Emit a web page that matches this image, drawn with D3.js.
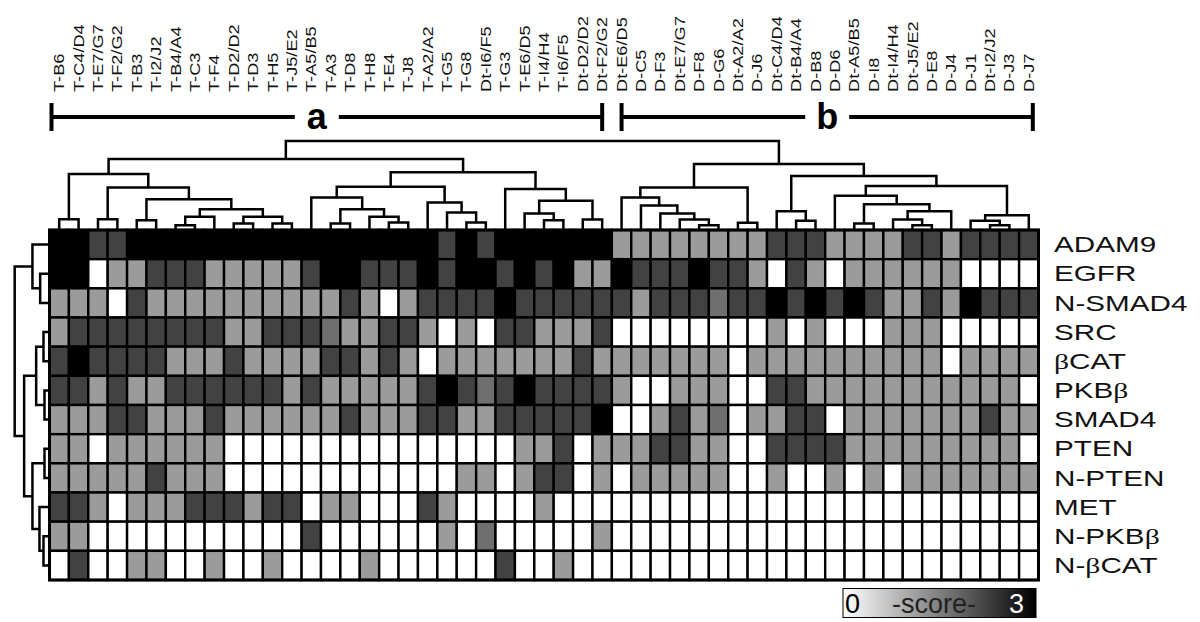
<!DOCTYPE html>
<meta charset="utf-8">
<title>Clustered heatmap</title>
<style>
  body { margin: 0; background: #fff; }
  svg { display: block; font-family: "Liberation Sans", Arial, sans-serif; }
</style>
<body>
<svg id="chart" width="1200" height="622"></svg>
<script src="https://d3js.org/d3.v7.min.js"></script>
<script>

var colLabels = ["T-B6","T-C4/D4","T-E7/G7","T-F2/G2","T-B3","T-I2/J2","T-B4/A4","T-C3","T-F4","T-D2/D2",
  "T-D3","T-H5","T-J5/E2","T-A5/B5","T-A3","T-D8","T-H8","T-E4","T-J8","T-A2/A2",
  "T-G5","T-G8","Dt-I6/F5","T-G3","T-E6/D5","T-I4/H4","T-I6/F5","Dt-D2/D2","Dt-F2/G2","Dt-E6/D5",
  "D-C5","D-F3","Dt-E7/G7","D-F8","D-G6","Dt-A2/A2","D-J6","Dt-C4/D4","Dt-B4/A4","D-B8",
  "D-D6","Dt-A5/B5","D-I8","Dt-I4/H4","Dt-J5/E2","D-E8","D-J4","D-J1","Dt-I2/J2","D-J3","D-J7"];

var rowLabels = ["ADAM9","EGFR","N-SMAD4","SRC","βCAT","PKBβ","SMAD4","PTEN","N-PTEN","MET","N-PKBβ","N-βCAT"];

// score per cell, 0..3
var scores = [
  [3,3,2,2,3,3,3,3,3,3,3,3,3, 3,3,3,3,3,3,3,2,3,2,3,3,3, 3,3,3,1,1,1,1,1,1,1,1,2,2, 2,1,1,1,1,2,2,1,2,2,2,2],
  [3,3,0,1,1,2,2,2,1,1,1,1,1, 2,3,3,2,2,2,3,2,3,3,2,3,2, 3,1,1,3,2,2,2,3,2,2,1,0,2, 1,0,1,1,1,1,1,1,0,0,0,0],
  [1,1,1,0,2,1,1,1,1,1,1,1,1, 1,1,2,1,0,1,2,2,2,2,3,2,2, 2,2,2,2,1,2,2,2,1.5,2,2,3,2, 3,2,3,2,1,1,2,1,3,2,2,2],
  [1,2,2,2,2,2,2,2,2,1,1,2,2, 2,1.5,1,1,2,2,1,0,1,0,2,2,1, 1,1,2,0,0,0,0,0,0,0,0,1,0, 1,0,0,0,1,1,1,0,0,0,0,0],
  [2,3,2,2,2,2,1,1,1,2,1,1,1, 1,2,2,1,2,1,0,1,1,1,1,1,1, 1,2,1,1,1,1,1,1,1,0,1,1,1, 1,1,1,1,1,1,1,0,1,1,1,1],
  [2,2,1,2,1,1,2,2,2,2,2,2,1, 2,1,1,1,1,1,2,3,2,1.5,2,3,2, 2,2,2,1,0,0,1,1,1,0,0,2,2, 1,1,1,1,1,1,1,1,1,1,1,0],
  [1,1,1,2,2,1,1,1,2,1,1,1,1, 1,1,2,1,1,1,2,2,1,1,2,2,2, 2,2,3,0,0,1,2,1,1.5,0,1,1,2, 2,0,1,1,1,1,1,1,1,2,1,1],
  [1,1,0,1,1,1,1,1,1,0,0,0,0, 0,0,0,0,0,0,0,0,0,0,0,1,1, 2,0,1,1,1,2,2,1,1,0,0,2,2, 2,2,1,1,1,1,1,1,1,1,1,0],
  [1,1,1,1,1,2,1,1,1,0,0,0,0, 0,0,0,0,0,0,0,0,1,1,0,1,2, 2,0,1,0,1,1,1,1,1,0,0,1,0, 0,1,0,1,0,1,1,1,1,1,1,1],
  [2,2,1,0,1,1,1,2,2,2,1,2,2, 0,1,1,0,0,0,2,1,0,0,0,0,1, 0,0,0,0,0,0,0,0,0,0,0,0,0, 0,0,0,0,0,0,0,0,0,0,0,0],
  [1,1,0,0,0,0,0,0,0,0,0,0,0, 2,0,0,0,0,0,0,1,0,1.5,0,0,0, 0,0,1,0,0,0,0,0,0,0,0,0,0, 0,0,0,0,0,0,0,0,0,0,0,0],
  [0,2,0,0,1,1,0,0,1,0,0,1,0, 0,0,0,1,0,0,0,0,0,0,2,0,0, 1,0,0,0,0,0,0,0,0,0,0,0,0, 0,0,0,0,0,0,0,0,0,0,0,0]
];

// dendrograms: [height, left, right], leaves are column / row indices
var colTree = [88.3,
  [70.3,
    [55.3, [10.3,0,1], [42, [10.3,2,3], [30.3, [9.3,4,5], [20.3, [12.7,[4.3,6,7],8], [12.7,[6,9,10],[6,11,12]]]]]],
    [57,
      [42.7,
        [32, 13, [20.3, [6,14,15], [12.7, 16, [7,17,18]]]],
        [27, 19, [17, 20, [7,21,22]]]],
      [40.3, 23, [28.7, [16, 24, [9.3,25,26]], [10,27,28]]]]],
  [65.3,
    [42, [32, 29, [24, 30, [16, 31, [10, 32, [4.3,33,34]]]]], [6.7,35,36]],
    [53.3,
      [18.3, 37, [8.7,38,39]],
      [43.3,
        [33.7, 40, [25.3, [6,41,42], [18.3, [10, 43, [4.3,44,45]], 46]]],
        [14.3, [8.7, 47, [4.3,48,49]], 50]]]]];

var rowTree = [34.7,
  [17, 0, [9.3,1,2]],
  [25.3, [13.3, [6,3,4], [5,5,6]], [17, [5,7,8], [10, 9, [6,10,11]]]]];

var groupNames = ["a", "b"],
    groupFirst = [0, 29],
    groupLast = [28, 50];

var legendMin = 0, legendMax = 3;

var svg = d3.select("#chart");

var mapLeft = 49.5, mapRight = 1038.5, mapTop = 230, mapBottom = 580;

var x = d3.scaleBand().domain(d3.range(colLabels.length)).range([mapLeft, mapRight]);
var y = d3.scaleBand().domain(d3.range(rowLabels.length)).range([mapTop, mapBottom]);
var bw = x.bandwidth(), bh = y.bandwidth();

var color = d3.scaleLinear()
    .domain([0, 1, 2, 3])
    .range(["#ffffff", "#9b9b9b", "#424242", "#000000"]);

// heatmap cells
var cells = [];
scores.forEach(function(row, r) {
  row.forEach(function(v, c) { cells.push({r: r, c: c, v: v}); });
});

svg.append("g").selectAll("rect")
  .data(cells)
  .enter().append("rect")
    .attr("x", function(d) { return x(d.c); })
    .attr("y", function(d) { return y(d.r); })
    .attr("width", bw)
    .attr("height", bh)
    .attr("fill", function(d) { return color(d.v); })
    .attr("stroke", "#000")
    .attr("stroke-width", 2.4);

svg.append("rect")
    .attr("x", mapLeft).attr("y", mapTop)
    .attr("width", mapRight - mapLeft).attr("height", mapBottom - mapTop)
    .attr("fill", "none").attr("stroke", "#000").attr("stroke-width", 3);

// dendrogram helper: collects links with leaf positions
function walk(node, pos, links) {
  if (!Array.isArray(node)) return {p: pos(node), h: 0};
  var a = walk(node[1], pos, links), b = walk(node[2], pos, links);
  links.push({a: a, b: b, h: node[0]});
  return {p: (a.p + b.p) / 2, h: node[0]};
}

var colLinks = [];
walk(colTree, function(i) { return x(i) + bw / 2; }, colLinks);
var hTop = d3.scaleLinear().domain([0, colTree[0]]).range([mapTop - 0.5, 141]);

svg.append("g").selectAll("path")
  .data(colLinks)
  .enter().append("path")
    .attr("fill", "none")
    .attr("stroke", "#000")
    .attr("stroke-width", 2.5)
    .attr("d", function(d) {
      return "M" + d.a.p + "," + hTop(d.a.h) + "V" + hTop(d.h) + "H" + d.b.p + "V" + hTop(d.b.h);
    });

var rowLinks = [];
walk(rowTree, function(i) { return y(i) + bh / 2; }, rowLinks);
var hLeft = d3.scaleLinear().domain([0, rowTree[0]]).range([mapLeft, 14.7]);

svg.append("g").selectAll("path")
  .data(rowLinks)
  .enter().append("path")
    .attr("fill", "none")
    .attr("stroke", "#000")
    .attr("stroke-width", 2.5)
    .attr("d", function(d) {
      return "M" + hLeft(d.a.h) + "," + d.a.p + "H" + hLeft(d.h) + "V" + d.b.p + "H" + hLeft(d.b.h);
    });

// column labels (rotated)
svg.append("g").selectAll("text")
  .data(colLabels)
  .enter().append("text")
    .attr("transform", function(d, i) {
      return "translate(" + (x(i) + bw / 2) + ",92) rotate(-90) scale(1.3,1)";
    })
    .attr("dy", "0.36em")
    .attr("font-size", 14)
    .attr("fill", "#111")
    .text(function(d) { return d; });

// row labels, beta drawn in a serif face like the original
var rowText = svg.append("g").selectAll("text")
  .data(rowLabels)
  .enter().append("text")
    .attr("transform", function(d, i) {
      return "translate(1054," + (y(i) + bh / 2) + ") scale(1.38,1)";
    })
    .attr("dy", "0.36em")
    .attr("font-size", 21.5)
    .attr("fill", "#111");

rowText.each(function(d) {
  var t = d3.select(this);
  d.split(/(β)/).forEach(function(part) {
    if (!part) return;
    var s = t.append("tspan").text(part);
    if (part === "β") s.attr("font-family", "'Liberation Serif', serif");
  });
});

// group brackets
var gb = svg.append("g");
groupNames.forEach(function(name, i) {
  var x0 = i === 0 ? mapLeft + 2 : x(groupFirst[i]) + bw / 2,
      x1 = i === groupNames.length - 1 ? x(groupLast[i]) + bw / 2 + 4 : x(groupLast[i]) + bw / 2,
      xm = (x0 + x1) / 2 - (i === 0 ? 10 : 0),
      yl = 117;
  gb.append("path")
    .attr("fill", "none").attr("stroke", "#000").attr("stroke-width", 4)
    .attr("d", "M" + x0 + "," + yl + "H" + (xm - 22) + "M" + (xm + 22) + "," + yl + "H" + x1 +
               "M" + x0 + ",103V131M" + x1 + ",103V131");
  gb.append("text")
    .attr("x", xm).attr("y", 129)
    .attr("text-anchor", "middle")
    .attr("font-size", 36)
    .attr("font-weight", "bold")
    .text(name);
});

// legend
var defs = svg.append("defs");
var grad = defs.append("linearGradient").attr("id", "scoreGrad");
grad.append("stop").attr("offset", "0%").attr("stop-color", "#fff");
grad.append("stop").attr("offset", "100%").attr("stop-color", "#000");

var lg = svg.append("g");
lg.append("rect")
    .attr("x", 843).attr("y", 588.5)
    .attr("width", 193).attr("height", 29)
    .attr("fill", "url(#scoreGrad)")
    .attr("stroke", "#000").attr("stroke-width", 1);
lg.append("text").attr("x", 845).attr("y", 613).attr("font-size", 27).attr("fill", "#000").text(legendMin);
lg.append("text").attr("x", 934).attr("y", 613).attr("font-size", 27).attr("fill", "#222")
    .attr("text-anchor", "middle").text("-score-");
lg.append("text").attr("x", 1024).attr("y", 613).attr("font-size", 27).attr("fill", "#fff")
    .attr("text-anchor", "end").text(legendMax);

</script>
</body>
